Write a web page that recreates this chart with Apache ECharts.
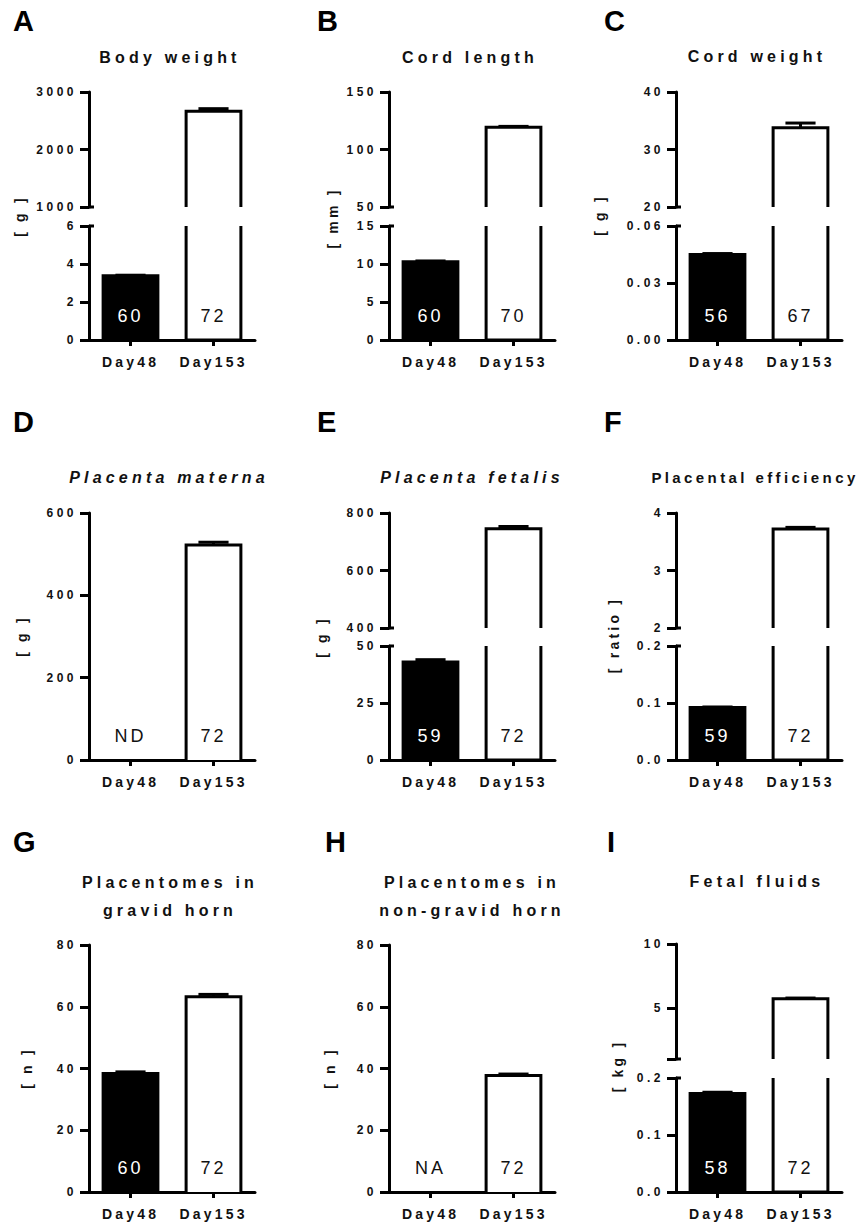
<!DOCTYPE html>
<html><head><meta charset="utf-8">
<script src="https://cdn.jsdelivr.net/npm/echarts@6/dist/echarts.min.js"></script>
<style>
html,body{margin:0;padding:0;background:#fff}
#c{width:867px;height:1227px}
#c text[style*="16px"]{letter-spacing:4.2px}
#c text[style*="15px"]{letter-spacing:3.4px}
#c text[style*="12px"]{letter-spacing:3.5px}
#c text[style*="14px"]{letter-spacing:3.2px}
#c text[style*="18px"]{letter-spacing:3px}
</style></head><body><div id="c"></div>
<script>
const categories = ['Day48', 'Day153'];

// A — Body weight [g]
const bodyWeightMean = [3.38, 2665];
const bodyWeightErr = [0.03, 45];
const bodyWeightN = ['60', '72'];
const bodyWeightUpperTicks = [1000, 2000, 3000];
const bodyWeightLowerTicks = [0, 2, 4, 6];

// B — Cord length [mm]
const cordLengthMean = [10.3, 119.3];
const cordLengthErr = [0.1, 0.8];
const cordLengthN = ['60', '70'];
const cordLengthUpperTicks = [50, 100, 150];
const cordLengthLowerTicks = [0, 5, 10, 15];

// C — Cord weight [g]
const cordWeightMean = [0.045, 33.8];
const cordWeightErr = [0.0005, 0.8];
const cordWeightN = ['56', '67'];
const cordWeightUpperTicks = [20, 30, 40];
const cordWeightLowerTicks = [0, 0.03, 0.06];

// D — Placenta materna [g]
const materMean = [null, 522];
const materErr = [null, 7];
const materN = ['ND', '72'];
const materTicks = [0, 200, 400, 600];

// E — Placenta fetalis [g]
const fetalMean = [43, 745];
const fetalErr = [1, 8];
const fetalN = ['59', '72'];
const fetalUpperTicks = [400, 600, 800];
const fetalLowerTicks = [0, 25, 50];

// F — Placental efficiency [ratio]
const effMean = [0.092, 3.72];
const effErr = [0.001, 0.03];
const effN = ['59', '72'];
const effUpperTicks = [2, 3, 4];
const effLowerTicks = [0, 0.1, 0.2];

// G — Placentomes in gravid horn [n]
const gravidMean = [38.4, 63.2];
const gravidErr = [0.5, 0.8];
const gravidN = ['60', '72'];
const gravidTicks = [0, 20, 40, 60, 80];

// H — Placentomes in non-gravid horn [n]
const nonGravidMean = [null, 37.7];
const nonGravidErr = [null, 0.5];
const nonGravidN = ['NA', '72'];
const nonGravidTicks = [0, 20, 40, 60, 80];

// I — Fetal fluids [kg]
const fluidMean = [0.173, 5.72];
const fluidErr = [0.002, 0.05];
const fluidN = ['58', '72'];
const fluidUpperTicks = [1, 5, 10];
const fluidUpperLabels = [5, 10];
const fluidLowerTicks = [0, 0.1, 0.2];

const FONT = '"Liberation Sans", Arial, sans-serif';
const INK = '#111';
const barFill = ['#000', '#fff'];

const panels = [
  {letter:'A', title:'Body weight', yName:'[ g ]', mean:bodyWeightMean, err:bodyWeightErr, n:bodyWeightN, upper:bodyWeightUpperTicks, lower:bodyWeightLowerTicks, decU:0, decL:0},
  {letter:'B', title:'Cord length', yName:'[ mm ]', mean:cordLengthMean, err:cordLengthErr, n:cordLengthN, upper:cordLengthUpperTicks, lower:cordLengthLowerTicks, decU:0, decL:0},
  {letter:'C', title:'Cord weight', yName:'[ g ]', mean:cordWeightMean, err:cordWeightErr, n:cordWeightN, upper:cordWeightUpperTicks, lower:cordWeightLowerTicks, decU:0, decL:2},
  {letter:'D', title:'Placenta materna', italic:true, yName:'[ g ]', mean:materMean, err:materErr, n:materN, single:materTicks, decU:0, decL:0},
  {letter:'E', title:'Placenta fetalis', italic:true, yName:'[ g ]', mean:fetalMean, err:fetalErr, n:fetalN, upper:fetalUpperTicks, lower:fetalLowerTicks, decU:0, decL:0},
  {letter:'F', title:'Placental efficiency', titleSize:15, yName:'[ ratio ]', mean:effMean, err:effErr, n:effN, upper:effUpperTicks, lower:effLowerTicks, decU:0, decL:1},
  {letter:'G', title:'Placentomes in\ngravid horn', yName:'[ n ]', mean:gravidMean, err:gravidErr, n:gravidN, single:gravidTicks, decU:0, decL:0},
  {letter:'H', title:'Placentomes in\nnon-gravid horn', yName:'[ n ]', mean:nonGravidMean, err:nonGravidErr, n:nonGravidN, single:nonGravidTicks, decU:0, decL:0},
  {letter:'I', title:'Fetal fluids', yName:'[ kg ]', mean:fluidMean, err:fluidErr, n:fluidN, upper:fluidUpperTicks, upperLabels:fluidUpperLabels, lower:fluidLowerTicks, decU:0, decL:1}
];

// layout (pixels)
const colX = [89, 389, 676];
const gridW = 166;
const rowGeom = [
  {upper:[92, 207], lower:[226, 340], single:[92, 340]},
  {upper:[513, 628], lower:[646, 760], single:[513, 760]},
  {upper:[944, 1059], lower:[1078, 1192], single:[945, 1192]}
];
const letterPos = [[13,21],[317,21],[604,21],[13,422],[317,422],[604,422],[13,842],[325,842],[607,842]];
const titlePos = [[170,57],[470,57],[757,56],[169,477],[472,477],[755,477],[170,896],[472,896],[757,881]];
const yNamePos = [[20,216],[333,218],[600,215],[22,636],[322,637],[614,635],[27,1068],[330,1068],[618,1066]];

const grids = [], xAxes = [], yAxes = [], series = [], graphics = [];

function last(a){ return a[a.length-1]; }

function makeRender(p, part, lo, hi) {
  return function (params, api) {
    const i = api.value(0);
    const v = p.mean[i];
    const e = p.err[i];
    const band = api.size([1, 0])[0];
    const bw = band * 0.66;
    const capW = bw * 0.55;
    const base = api.coord([i, lo]);
    const cx = base[0], xl = cx - bw / 2, xr = cx + bw / 2;
    const gridTop = api.coord([i, hi])[1];
    const ch = [];
    const filled = barFill[i] === '#000';
    let errVisible = false, topY = null;
    // break markers on the y axis
    if (i === 0 && part !== 'single') {
      const ax = cx - band / 2;
      const yb = part === 'upper' ? base[1] : gridTop;
      ch.push({type:'line', shape:{x1:ax, y1:yb, x2:ax + 5, y2:yb}, style:{stroke:'#000', lineWidth:3}});
    }
    if (v != null && !isNaN(v)) {
      if (part === 'upper') {
        if (v > lo) {
          topY = api.coord([i, v])[1];
          ch.push({type:'polyline', shape:{points:[[xl, base[1]],[xl, topY],[xr, topY],[xr, base[1]]]},
            style:{stroke:'#000', lineWidth:3, fill:null}});
          errVisible = true;
        }
      } else {
        const clipped = v > hi;
        topY = api.coord([i, Math.min(v, hi)])[1];
        if (filled) {
          ch.push({type:'rect', shape:{x:xl, y:topY, width:bw, height:base[1]-topY},
            style:{fill:'#000', stroke:'#000', lineWidth:3}});
        } else if (clipped) {
          ch.push({type:'polyline', shape:{points:[[xl, gridTop],[xl, base[1]],[xr, base[1]],[xr, gridTop]]},
            style:{stroke:'#000', lineWidth:3, fill:null}});
        } else {
          ch.push({type:'polyline', shape:{points:[[xl, base[1]],[xl, topY],[xr, topY],[xr, base[1]]]},
            style:{stroke:'#000', lineWidth:3, fill:'#fff'}});
        }
        errVisible = !clipped;
      }
      if (errVisible && e) {
        const eY = api.coord([i, v + e])[1];
        ch.push({type:'line', shape:{x1:cx, y1:topY, x2:cx, y2:eY}, style:{stroke:'#000', lineWidth:3}});
        ch.push({type:'line', shape:{x1:cx - capW/2, y1:eY, x2:cx + capW/2, y2:eY}, style:{stroke:'#000', lineWidth:3}});
      }
    }
    if (part !== 'upper') {
      const hasBar = v != null && !isNaN(v);
      ch.push({type:'text', x:cx, y:base[1] - 24, style:{text:p.n[i], fill:(hasBar && filled) ? '#fff' : INK,
        fontSize:18, fontFamily:FONT, align:'center', verticalAlign:'middle'}});
    }
    return {type:'group', children:ch};
  };
}

function addGrid(p, idx, part, top, bottom, ticks, labels, dec) {
  const gi = grids.length;
  const col = idx % 3;
  grids.push({left:colX[col], top:top, width:gridW, height:bottom - top});
  const showX = part !== 'upper';
  xAxes.push({type:'category', gridIndex:gi, data:categories, show:showX,
    axisLine:{show:true, lineStyle:{color:'#000', width:3}},
    axisTick:{show:true, alignWithLabel:true, length:6, lineStyle:{color:'#000', width:3}},
    axisLabel:{show:true, margin:15, color:INK, fontSize:14, fontWeight:'bold', fontFamily:FONT}});
  const lo = ticks[0], hi = last(ticks);
  yAxes.push({type:'value', gridIndex:gi, min:lo, max:hi,
    splitLine:{show:false},
    axisLine:{show:true, lineStyle:{color:'#000', width:3}},
    axisTick:{show:true, length:9, lineStyle:{color:'#000', width:3}, customValues:ticks},
    axisLabel:{color:INK, fontSize:12, fontWeight:'bold', fontFamily:FONT, margin:12,
      customValues: labels || ticks,
      formatter:function(val){ return Number(val).toFixed(dec); }}});
  series.push({type:'custom', xAxisIndex:gi, yAxisIndex:gi, clip:false,
    data:categories.map(function(c, i){ return [i, p.mean[i] == null ? 0 : p.mean[i]]; }),
    renderItem:makeRender(p, part, lo, hi)});
}

panels.forEach(function(p, idx){
  const row = rowGeom[Math.floor(idx / 3)];
  if (p.single) {
    addGrid(p, idx, 'single', row.single[0], row.single[1], p.single, null, p.decL);
  } else {
    addGrid(p, idx, 'upper', row.upper[0], row.upper[1], p.upper, p.upperLabels, p.decU);
    addGrid(p, idx, 'lower', row.lower[0], row.lower[1], p.lower, null, p.decL);
  }
  graphics.push({type:'text', x:letterPos[idx][0], y:letterPos[idx][1],
    style:{text:p.letter, fill:'#000', fontSize:29, fontWeight:'bold', fontFamily:FONT, align:'left', verticalAlign:'middle'}});
  graphics.push({type:'text', x:titlePos[idx][0], y:titlePos[idx][1],
    style:{text:p.title, fill:INK, fontSize:p.titleSize || 16, fontWeight:'bold', fontStyle:p.italic ? 'italic' : 'normal',
      fontFamily:FONT, align:'center', verticalAlign:'middle', lineHeight:28}});
  graphics.push({type:'text', x:yNamePos[idx][0], y:yNamePos[idx][1], rotation:Math.PI / 2,
    style:{text:p.yName, fill:INK, fontSize:14, fontWeight:'bold', fontFamily:FONT, align:'center', verticalAlign:'middle'}});
});

const chart = echarts.init(document.getElementById('c'), null, {renderer:'svg', width:867, height:1227});
chart.setOption({
  animation:false,
  backgroundColor:'#fff',
  grid:grids, xAxis:xAxes, yAxis:yAxes, series:series,
  graphic:graphics
});
</script></body></html>
